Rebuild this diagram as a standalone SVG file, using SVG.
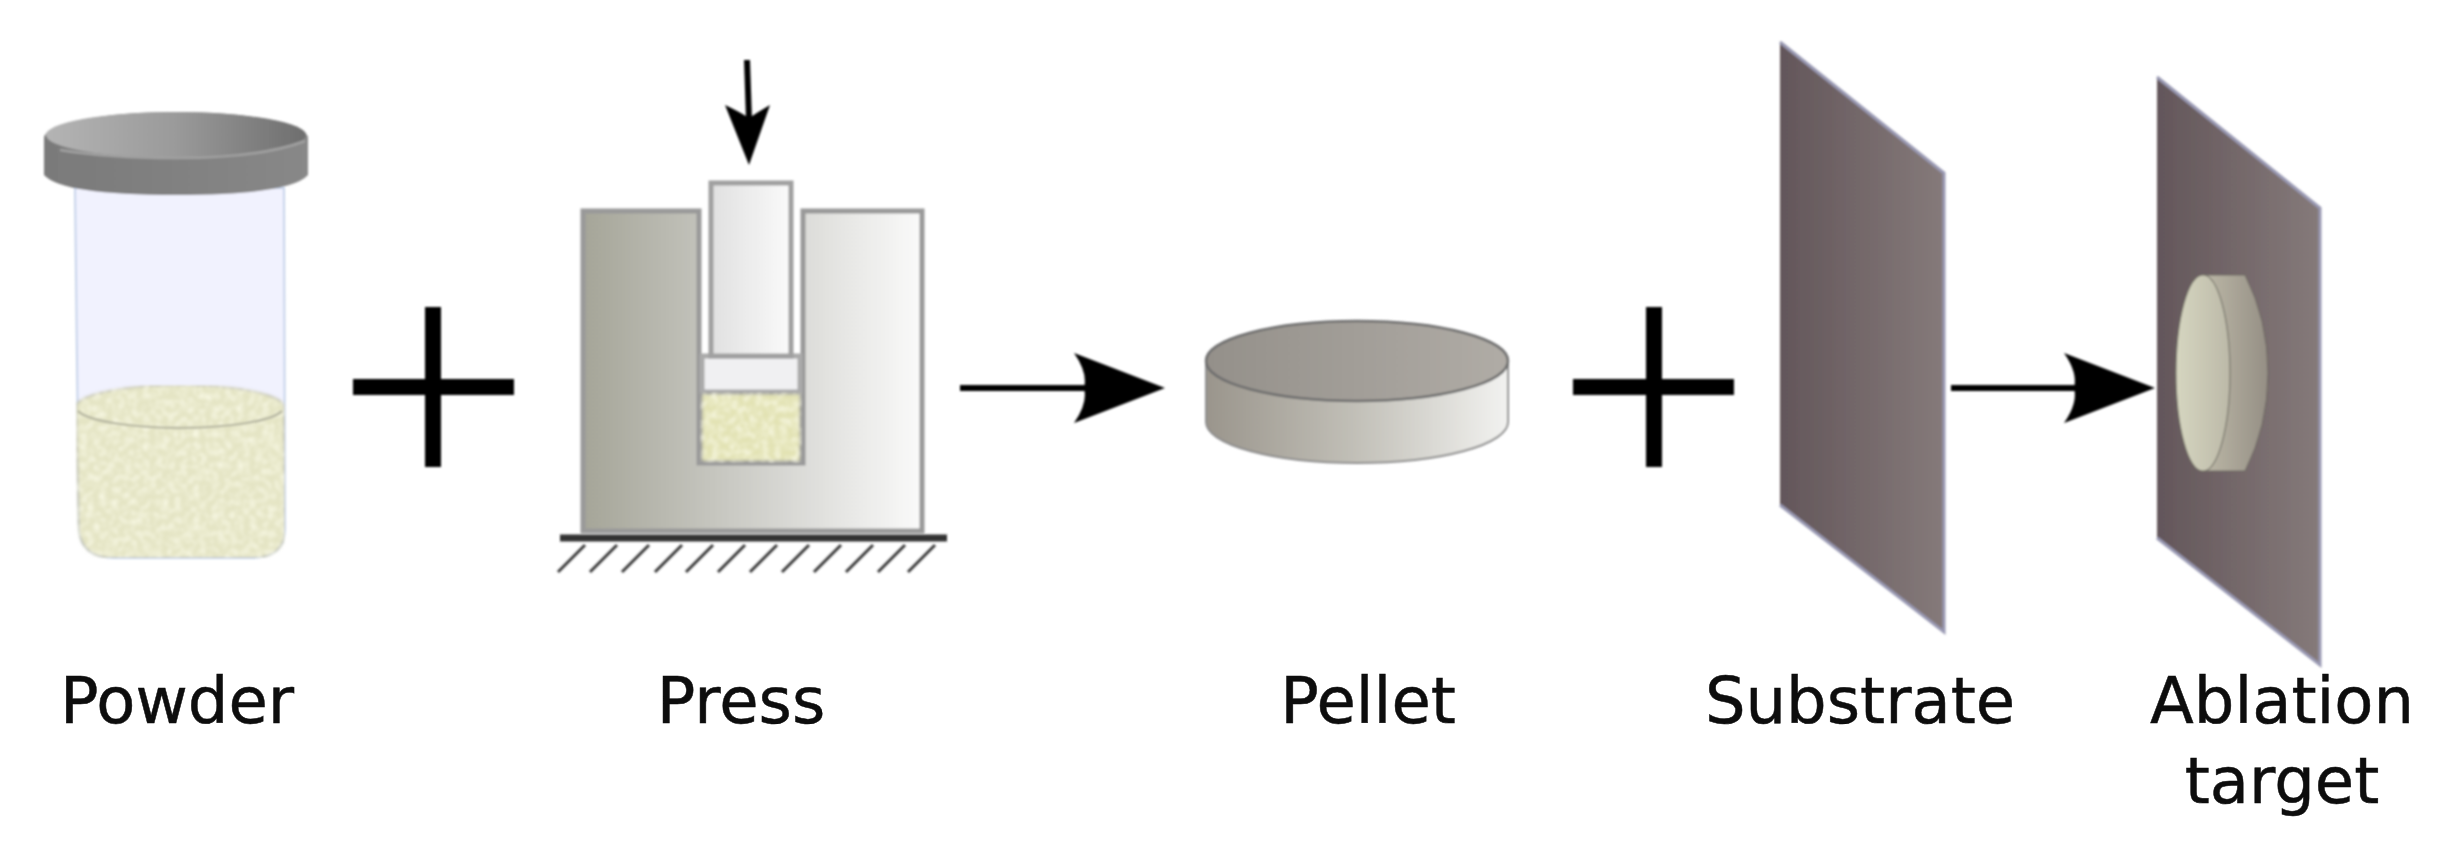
<svg xmlns="http://www.w3.org/2000/svg" width="2453" height="853" viewBox="0 0 2453 853">
<style>
.label{font-family:"DejaVu Sans",sans-serif;font-size:64px;fill:#0d0d0d;stroke:#0d0d0d;stroke-width:.5;text-anchor:middle}
.conn{stroke:#000;fill:none;stroke-width:6}
.plus{fill:#000}
.hatch{stroke:#3a3a3a;stroke-width:3;fill:none}
.edge{stroke:#9a9ab4;stroke-width:3;fill:none}
</style>
<defs>
<linearGradient id="lid" x1="0" x2="1" y1="0" y2="0"><stop offset="0" stop-color="#b4b4b4"/><stop offset=".5" stop-color="#9a9a9a"/><stop offset="1" stop-color="#6e6e6e"/></linearGradient>
<linearGradient id="lidside" x1="0" x2="1" y1="0" y2="0"><stop offset="0" stop-color="#7a7a7a"/><stop offset="1" stop-color="#888"/></linearGradient>
<linearGradient id="body" x1="0" x2="1" y1="0" y2="0"><stop offset="0" stop-color="#a5a598"/><stop offset=".5" stop-color="#cfcfca"/><stop offset="1" stop-color="#fafafa"/></linearGradient>
<linearGradient id="plunger" x1="0" x2="1" y1="0" y2="0"><stop offset="0" stop-color="#e0e0e0"/><stop offset="1" stop-color="#fafafa"/></linearGradient>
<linearGradient id="ptop" x1="0" x2="1" y1="0" y2="0"><stop offset="0" stop-color="#94908a"/><stop offset="1" stop-color="#b0aca6"/></linearGradient>
<linearGradient id="pside" x1="0" x2="1" y1="0" y2="0"><stop offset="0" stop-color="#9a958c"/><stop offset=".5" stop-color="#c2c0b8"/><stop offset="1" stop-color="#f2f2f0"/></linearGradient>
<linearGradient id="sheet" x1="0" x2="1" y1="0" y2="0"><stop offset="0" stop-color="#63565a"/><stop offset="1" stop-color="#857a7a"/></linearGradient>
<linearGradient id="tface" x1="0" x2="1" y1="0" y2="0"><stop offset="0" stop-color="#d6d6c0"/><stop offset="1" stop-color="#bcb9a8"/></linearGradient>
<linearGradient id="tside" x1="0" x2="1" y1="0" y2="0"><stop offset="0" stop-color="#bdb9a8"/><stop offset="1" stop-color="#958f85"/></linearGradient>
<filter id="soft" x="-5%" y="-5%" width="110%" height="110%"><feGaussianBlur stdDeviation="0.9"/></filter>
<filter id="grain" x="0" y="0" width="100%" height="100%">
<feTurbulence type="fractalNoise" baseFrequency="0.16" numOctaves="2" seed="4" result="n"/>
<feColorMatrix in="n" type="matrix" values="0 0 0 0 1  0 0 0 0 1  0 0 0 0 .85  1.6 0 0 0 -.62" result="m"/>
<feComposite in="m" in2="SourceAlpha" operator="in" result="c"/>
<feMerge result="g"><feMergeNode in="SourceGraphic"/><feMergeNode in="c"/></feMerge>
<feGaussianBlur in="g" stdDeviation="0.9"/>
</filter>
<path id="head" d="M0 0Q14 20 10 35Q14 50 0 70L91 35Z"/>
</defs>
<rect width="2453" height="853" fill="#fff"/>
<g id="connectors" filter="url(#soft)">
<path class="conn" d="M960 388H1090"/>
<use href="#head" x="1074" y="353"/>
<path class="conn" d="M1951 388H2080"/>
<use href="#head" x="2064" y="353"/>
<path class="conn" d="M747 60L749 120"/>
<path d="M725 105Q740 112 749 118Q758 112 770 105L749 165Z"/>
<g class="plus"><rect x="353" y="379" width="161" height="16"/><rect x="425" y="307" width="16" height="160"/></g>
<g class="plus"><rect x="1573" y="379" width="161" height="16"/><rect x="1646" y="307" width="16" height="160"/></g>
</g>
<g id="powder-jar" filter="url(#soft)">
<path d="M75 188H284L285 530Q284 558 250 558H115Q82 558 79 530Z" fill="#f1f2fe" stroke="#c6d3ea" stroke-width="2"/>
<path filter="url(#grain)" d="M76 407A104 22 0 0 1 284 407L285 530Q284 558 250 558H115Q82 558 79 530Z" fill="#e4e4c4" stroke="#c4c4b4" stroke-width="2"/>
<path d="M78 411A104 21 0 0 0 282 411" fill="none" stroke="#bcbca6" stroke-width="2.5"/>
<path d="M44 138A132 26 0 0 1 308 138V175Q290 195 176 195Q62 195 44 175Z" fill="url(#lidside)"/>
<ellipse cx="176" cy="135" rx="130" ry="23" fill="url(#lid)"/>
<path d="M60 150Q110 158 176 158Q260 158 305 141" fill="none" stroke="#a0a0a0" stroke-width="2.5"/>
</g>
<g id="press" filter="url(#soft)">
<path d="M583 211H699V463H803V211H922V531H583Z" fill="url(#body)" stroke="#999" stroke-width="5"/>
<rect x="702" y="356" width="98" height="36" fill="#f0f0f2" stroke="#aaa" stroke-width="5"/>
<rect filter="url(#grain)" x="700" y="392" width="102" height="71" fill="#e2e2b4" stroke="#999" stroke-width="5"/>
<rect x="711" y="183" width="80" height="173" fill="url(#plunger)" stroke="#a0a0a0" stroke-width="5"/>
<path d="M560 538H947" stroke="#333" stroke-width="7"/>
<path class="hatch" d="M558 572l27-27M590 572l27-27M622 572l27-27M655 572l27-27M686 572l27-27M718 572l27-27M750 572l27-27M782 572l27-27M814 572l27-27M846 572l27-27M878 572l27-27M908 572l27-27"/>
</g>
<g id="pellet" filter="url(#soft)">
<path d="M1206 361V422A151 41 0 0 0 1508 422V361Z" fill="url(#pside)" stroke="#8e8e8e" stroke-width="2"/>
<ellipse cx="1357" cy="361" rx="151" ry="40" fill="url(#ptop)" stroke="#6e6e6e" stroke-width="2.5"/>
</g>
<g id="substrate" filter="url(#soft)">
<path d="M1780 42L1944 173V632L1780 505Z" fill="url(#sheet)"/>
<path class="edge" d="M1780 42L1944 173V632L1780 505"/>
</g>
<g id="target" filter="url(#soft)">
<path d="M2157 77L2320 208V665L2157 538Z" fill="url(#sheet)"/>
<path class="edge" d="M2157 77L2320 208V665L2157 538"/>
<path d="M2202 275H2245Q2268 320 2268 373Q2268 426 2245 471H2202Z" fill="url(#tside)" stroke="#6b6660" stroke-width="1"/>
<ellipse cx="2203" cy="373" rx="27" ry="98" fill="url(#tface)" stroke="#77756a" stroke-width="1.2"/>
</g>
<g id="labels">
<text class="label" x="177" y="723">Powder</text>
<text class="label" x="741" y="723">Press</text>
<text class="label" x="1368" y="723">Pellet</text>
<text class="label" x="1860" y="723">Substrate</text>
<text class="label" x="2282" y="723">Ablation</text>
<text class="label" x="2282" y="803">target</text>
</g>
</svg>
